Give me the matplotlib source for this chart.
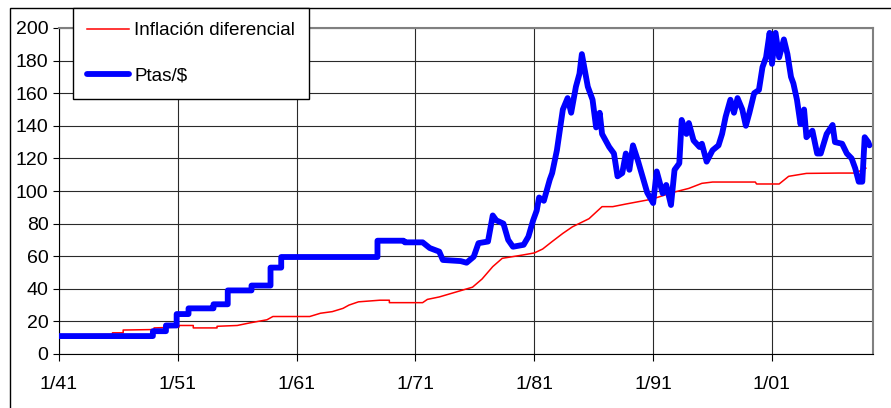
import matplotlib
matplotlib.use("Agg")
import matplotlib.pyplot as plt
from matplotlib.patches import Rectangle

plt.rcParams['font.family'] = ['Liberation Sans', 'DejaVu Sans']

# Ptas/$ exchange rate (year, value)
ptas_year = [1941.0, 1948.9, 1948.9, 1950.0, 1950.0, 1950.9, 1950.9, 1951.9, 1951.9, 1954.0,
             1954.0, 1955.2, 1955.2, 1957.2, 1957.2, 1958.8, 1958.8, 1959.7, 1959.7, 1967.8,
             1967.8, 1970.0, 1970.1, 1971.6, 1972.2, 1973.0, 1973.3, 1974.8, 1975.3, 1975.9,
             1976.3, 1977.1, 1977.5, 1977.8, 1978.4, 1978.8, 1979.2, 1980.1, 1980.5, 1980.9,
             1981.2, 1981.4, 1981.8, 1982.3, 1982.5, 1982.9, 1983.4, 1983.8, 1984.1, 1984.5,
             1984.8, 1985.0, 1985.3, 1985.5, 1985.9, 1986.2, 1986.5, 1986.7, 1987.3, 1987.7,
             1988.0, 1988.4, 1988.7, 1989.0, 1989.3, 1989.7, 1990.1, 1990.5, 1991.0, 1991.3,
             1991.8, 1992.1, 1992.5, 1992.8, 1993.2, 1993.4, 1993.8, 1994.0, 1994.4, 1994.9,
             1995.1, 1995.5, 1996.0, 1996.5, 1996.8, 1997.1, 1997.5, 1997.8, 1998.1, 1998.5,
             1998.8, 1999.1, 1999.5, 1999.9, 2000.2, 2000.5, 2000.8, 2001.0, 2001.3, 2001.6,
             2002.0, 2002.3, 2002.6, 2002.8, 2003.1, 2003.4, 2003.7, 2003.9, 2004.4, 2004.8,
             2005.1, 2005.6, 2006.1, 2006.3, 2006.9, 2007.3, 2007.7, 2008.0, 2008.3, 2008.6,
             2008.8, 2009.1, 2009.2]
ptas_val = [11, 11, 14, 14, 17.5, 17.5, 24.5, 24.5, 28, 28,
            30.5, 30.5, 39, 39, 42, 42, 53, 53, 59.5, 59.5,
            69.5, 69.5, 68.5, 68.5, 65, 62.8, 57.7, 57, 56, 59.7,
            68, 69, 85, 82, 80, 70, 65.8, 67, 72, 82,
            88, 96, 94, 107, 111, 125, 150, 157, 148, 164,
            172, 184, 172, 164, 156, 139, 148, 135, 127, 123,
            109, 111, 123, 113, 128, 119, 109, 99, 92.6, 112,
            98.6, 103.7, 91.4, 113, 117, 143.6, 135, 141.7, 131, 127,
            129, 118, 125, 128, 135, 145.6, 156, 148, 157, 150,
            140, 148, 160, 162, 176, 182, 197, 178, 197, 182,
            193, 184, 170, 166, 156, 141, 150, 133, 137, 123,
            123, 135, 140.5, 130, 129, 123, 120, 114, 105.7, 105.7,
            133, 130, 128]

# Differential inflation index (year, value)
infl_year = [1941.0, 1945.5, 1945.5, 1946.4, 1946.4, 1949.0, 1949.0, 1951.1, 1951.1, 1952.3,
             1952.3, 1954.3, 1954.3, 1956.0, 1957.0, 1958.5, 1959.0, 1962.1, 1963.0, 1964.0,
             1964.9, 1965.4, 1966.2, 1968.0, 1968.8, 1968.8, 1971.6, 1972.0, 1973.0, 1974.4,
             1975.8, 1976.6, 1977.5, 1978.3, 1980.0, 1981.0, 1981.7, 1982.5, 1983.4, 1984.2,
             1985.6, 1986.7, 1987.6, 1988.7, 1989.8, 1990.9, 1992.6, 1994.0, 1995.1, 1996.0,
             1999.6, 1999.7, 2001.6, 2002.4, 2003.9, 2006.6, 2008.0, 2008.9]
infl_val = [11.7, 12, 13, 13, 14.7, 15, 16, 16.5, 17.5, 17.5,
            16, 16, 17, 17.5, 19, 21, 23, 23, 25, 26,
            28, 30, 32, 33, 33, 31.5, 31.5, 33.5, 35, 38,
            41, 46, 53.6, 58.7, 60.7, 62, 64.4, 69, 74, 78,
            83, 90.4, 90.4, 92, 93.5, 95, 99, 101.6, 104.7, 105.5,
            105.5, 104.3, 104.3, 109, 110.8, 111, 111, 114]

tick_years = [1941, 1951, 1961, 1971, 1981, 1991, 2001]
tick_labels = ["1/41", "1/51", "1/61", "1/71", "1/81", "1/91", "1/01"]
y_ticks = list(range(0, 201, 20))

W, H = 891, 408
fig = plt.figure(figsize=(W / 100, H / 100), dpi=100)
ax = fig.add_axes([59 / W, 1 - 354 / H, (873 - 59) / W, (354 - 28) / H])

# outer chart frame (cropped at right/bottom)
fig.patches.append(Rectangle((10 / W, -0.1), 1.2, 1 - 8 / H + 0.1, transform=fig.transFigure,
                             fill=False, edgecolor='black', linewidth=1.0, zorder=0))

ax.plot(infl_year, infl_val, color='#ff0000', linewidth=1.1, label='Inflación diferencial', zorder=3)
ax.plot(ptas_year, ptas_val, color='#0000ff', linewidth=4.2, label='Ptas/$', zorder=4,
        solid_joinstyle='round', solid_capstyle='round')

ax.set_xlim(1941, 2009.5)
ax.set_ylim(0, 200)
ax.set_xticks(tick_years)
ax.set_xticklabels(tick_labels)
ax.set_yticks(y_ticks)
ax.grid(True, color='#2a2a2a', linewidth=0.8)
ax.set_axisbelow(True)

ax.tick_params(axis='x', length=5, pad=11, labelsize=14, color='black')
ax.tick_params(axis='y', length=4.5, pad=3, labelsize=14, color='black')
ax.spines['left'].set_color('black')
ax.spines['bottom'].set_color('black')
ax.spines['top'].set_color('#808080')
ax.spines['right'].set_color('#808080')
ax.spines['top'].set_linewidth(1.5)
ax.spines['right'].set_linewidth(1.5)

leg = fig.legend(loc='upper left', bbox_to_anchor=(73 / W, 1 - 8 / H), bbox_transform=fig.transFigure,
                 fontsize=13.6, frameon=True, fancybox=False, framealpha=1, edgecolor='black',
                 borderpad=0.75, labelspacing=1.5, handlelength=2.2, handletextpad=0.3,
                 borderaxespad=0)
leg.get_frame().set_linewidth(1.0)

fig.savefig("out.png", dpi=100)
